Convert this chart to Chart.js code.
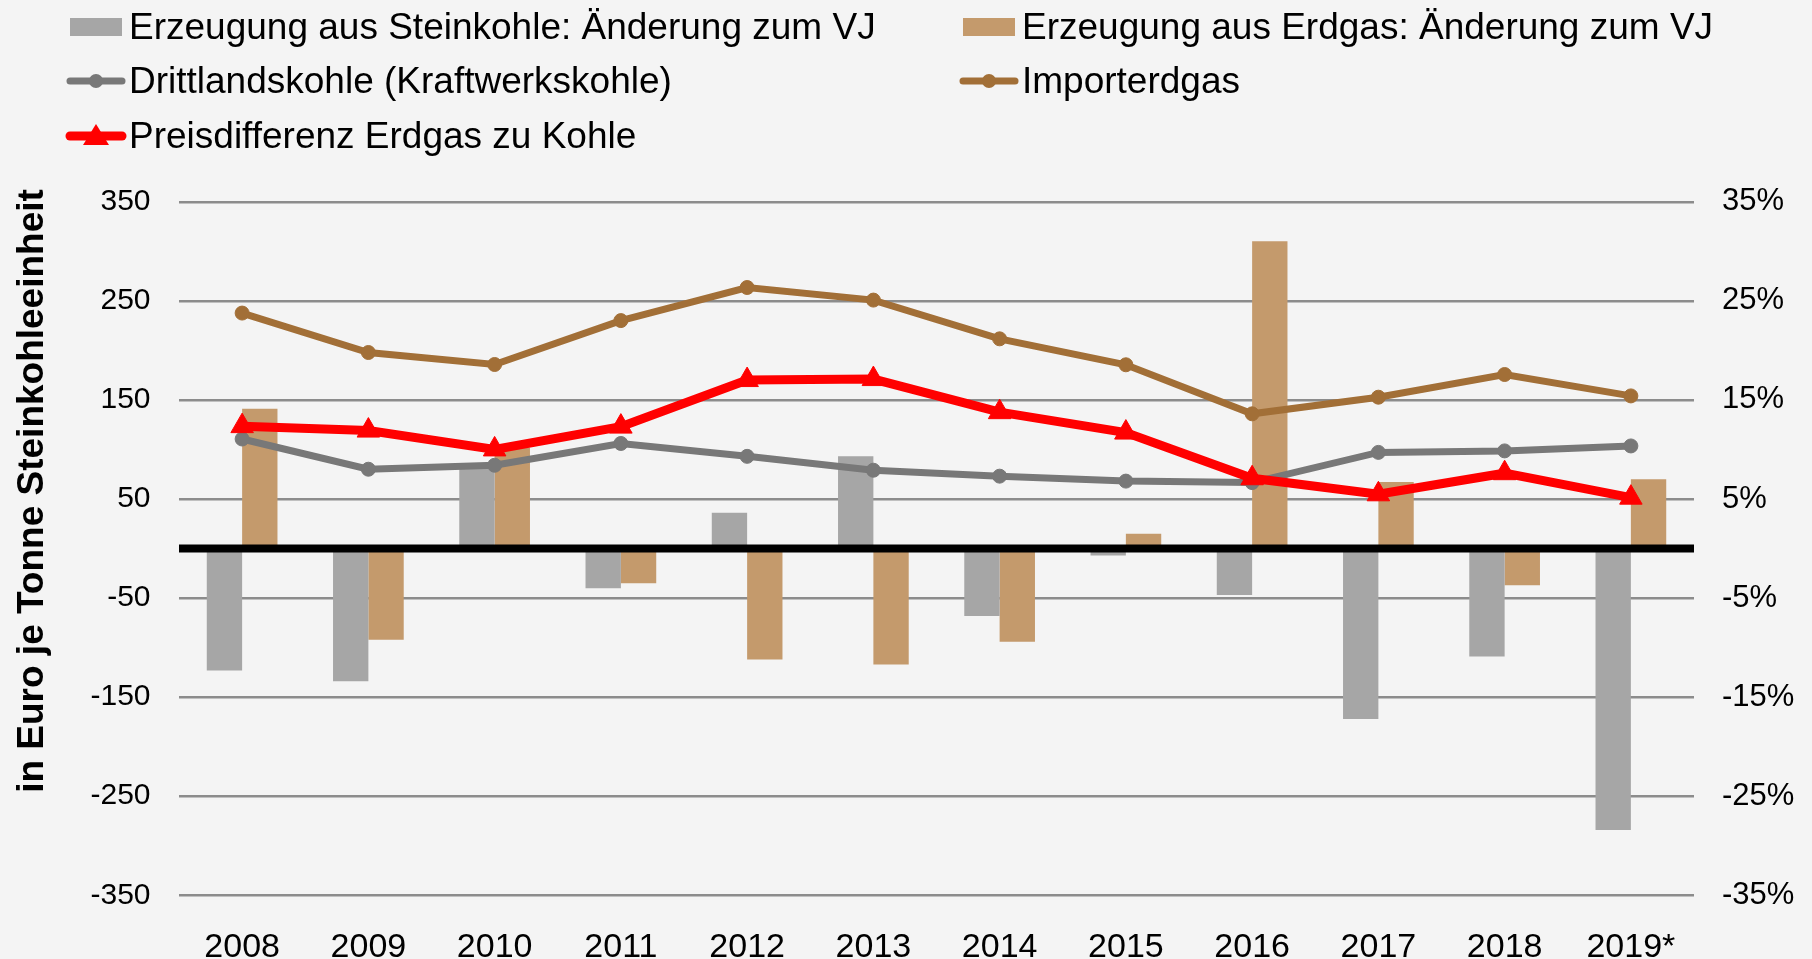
<!DOCTYPE html>
<html lang="de">
<head>
<meta charset="utf-8">
<title>Erzeugung und Brennstoffpreise</title>
<script src="https://cdn.jsdelivr.net/npm/chart.js@4.4.1/dist/chart.umd.min.js"></script>
<style>
    html, body { margin: 0; padding: 0; background: #f4f4f4; }
    #wrap { position: relative; width: 1812px; height: 959px; }
    #legend {
        position: absolute; left: 67px; top: 9px;
        display: grid; grid-template-columns: 893px auto; grid-auto-rows: 54.3px;
        font: 37px "Liberation Sans", Arial, sans-serif; color: #000;
    }
    .item { display: flex; align-items: center; height: 36px; line-height: 36px; white-space: nowrap; }
    .item svg { flex: none; display: block; }
</style>
</head>
<body>
<div id="wrap">
    <canvas id="chart"></canvas>
    <div id="legend"></div>
</div>
<script>
// ----- data -----
const years = ['2008', '2009', '2010', '2011', '2012', '2013', '2014', '2015', '2016', '2017', '2018', '2019*'];

// change vs previous year, percent (right axis)
const steinkohleChange = [-12.3, -13.4, 8.2, -4.0, 3.6, 9.3, -6.8, -0.7, -4.7, -17.2, -10.9, -28.4];
const erdgasChange = [14.1, -9.2, 10.2, -3.5, -11.2, -11.7, -9.4, 1.5, 31.0, 6.7, -3.7, 7.0];

// prices in Euro per tonne SKE (left axis)
const drittlandskohle = [110.5, 80, 84, 106, 93, 79, 73, 68, 66.5, 97, 98.5, 103.5];
const importerdgas = [237.6, 197.8, 185.7, 230, 263.4, 250.7, 211.6, 185.4, 135.9, 152.7, 175.6, 154];
const preisdifferenz = [123.5, 119, 100, 123, 170, 171, 137.6, 117, 70.9, 54.7, 76, 51.3];

const leftTicks = { min: -350, max: 350, step: 100 };
const rightTicks = { min: -35, max: 35, step: 10 };

const yTitle = 'in Euro je Tonne Steinkohleeinheit';

const FONT = '"Liberation Sans", Arial, sans-serif';
Chart.defaults.font.family = FONT;
Chart.defaults.color = '#000';

// black line at zero, drawn over the bars
const zeroLinePlugin = {
    id: 'zeroLine',
    afterDatasetsDraw(chart) {
        const { ctx, chartArea, scales } = chart;
        const y = scales.y.getPixelForValue(0);
        ctx.save();
        ctx.strokeStyle = '#000';
        ctx.lineWidth = 8;
        ctx.beginPath();
        ctx.moveTo(chartArea.left, y);
        ctx.lineTo(chartArea.right, y);
        ctx.stroke();
        ctx.restore();
    }
};

// rotated y title, sits a bit above the axis middle like the original
const axisTitlePlugin = {
    id: 'axisTitle',
    afterDraw(chart) {
        const { ctx } = chart;
        ctx.save();
        ctx.translate(43, 491);
        ctx.rotate(-Math.PI / 2);
        ctx.font = 'bold 37px ' + FONT;
        ctx.fillStyle = '#000';
        ctx.textAlign = 'center';
        ctx.textBaseline = 'alphabetic';
        ctx.fillText(yTitle, 0, 0);
        ctx.restore();
    }
};

const chart = new Chart(document.getElementById('chart'), {
    type: 'bar',
    data: {
        labels: years,
        datasets: [
            {
                type: 'bar',
                label: 'Erzeugung aus Steinkohle: Änderung zum VJ',
                data: steinkohleChange,
                backgroundColor: '#a6a6a6',
                yAxisID: 'y1',
                order: 3
            },
            {
                type: 'bar',
                label: 'Erzeugung aus Erdgas: Änderung zum VJ',
                data: erdgasChange,
                backgroundColor: '#c49a6c',
                yAxisID: 'y1',
                order: 3
            },
            {
                type: 'line',
                label: 'Drittlandskohle (Kraftwerkskohle)',
                data: drittlandskohle,
                borderColor: '#787878',
                backgroundColor: '#787878',
                borderWidth: 7,
                pointStyle: 'circle',
                pointRadius: 7,
                pointBorderWidth: 1,
                tension: 0,
                yAxisID: 'y',
                order: 2
            },
            {
                type: 'line',
                label: 'Importerdgas',
                data: importerdgas,
                borderColor: '#a26f37',
                backgroundColor: '#a26f37',
                borderWidth: 7,
                pointStyle: 'circle',
                pointRadius: 7,
                pointBorderWidth: 1,
                tension: 0,
                yAxisID: 'y',
                order: 1
            },
            {
                type: 'line',
                label: 'Preisdifferenz Erdgas zu Kohle',
                data: preisdifferenz,
                borderColor: '#ff0000',
                backgroundColor: '#ff0000',
                borderWidth: 9,
                pointStyle: 'triangle',
                pointRadius: 13,
                pointBorderWidth: 1,
                tension: 0,
                yAxisID: 'y',
                order: 0
            }
        ]
    },
    options: {
        responsive: true,
        maintainAspectRatio: false,
        animation: false,
        datasets: {
            bar: { categoryPercentage: 0.56, barPercentage: 1.0 }
        },
        layout: { padding: { top: 201.7, left: 0, right: 0, bottom: 0 } },
        plugins: {
            legend: { display: false },
            tooltip: { enabled: false }
        },
        scales: {
            x: {
                grid: { display: false },
                border: { display: false },
                ticks: { font: { size: 34 }, padding: 24, maxRotation: 0 },
                afterFit: scale => { scale.height = 63.7; }
            },
            y: {
                position: 'left',
                min: leftTicks.min,
                max: leftTicks.max,
                ticks: { stepSize: leftTicks.step, font: { size: 30 }, padding: 28.5 },
                grid: { color: '#8c8c8c', lineWidth: 2.4, drawTicks: false },
                border: { display: false },
                afterFit: scale => { scale.width = 179; }
            },
            y1: {
                position: 'right',
                min: rightTicks.min,
                max: rightTicks.max,
                ticks: {
                    stepSize: rightTicks.step,
                    font: { size: 31 },
                    padding: 28,
                    callback: value => value + '%'
                },
                grid: { drawOnChartArea: false, drawTicks: false },
                border: { display: false },
                afterFit: scale => { scale.width = 118; }
            }
        }
    },
    plugins: [zeroLinePlugin, axisTitlePlugin]
});

// ----- legend (two columns, like the original) -----
function swatchFor(ds) {
    const c = ds.borderColor || ds.backgroundColor;
    if (ds.type === 'bar') {
        return `<svg width="52" height="18" style="margin-left:3px;margin-right:7px">
                    <rect x="0" y="0" width="52" height="18" fill="${ds.backgroundColor}"/></svg>`;
    }
    let marker = `<circle cx="29" cy="11" r="7" fill="${c}"/>`;
    if (ds.pointStyle === 'triangle') {
        marker = `<polygon points="29,-1 42,20 16,20" fill="${c}"/>`;
    }
    return `<svg width="58" height="22" style="margin-right:4px;overflow:visible">
                <line x1="3" y1="11" x2="55" y2="11" stroke="${c}" stroke-width="${ds.borderWidth}" stroke-linecap="round"/>
                ${marker}</svg>`;
}

function buildLegend(chart) {
    const box = document.getElementById('legend');
    box.innerHTML = chart.data.datasets.map(ds => `
        <div class="item">${swatchFor(ds)}<span>${ds.label}</span></div>
    `).join('');
}

buildLegend(chart);
</script>
</body>
</html>
